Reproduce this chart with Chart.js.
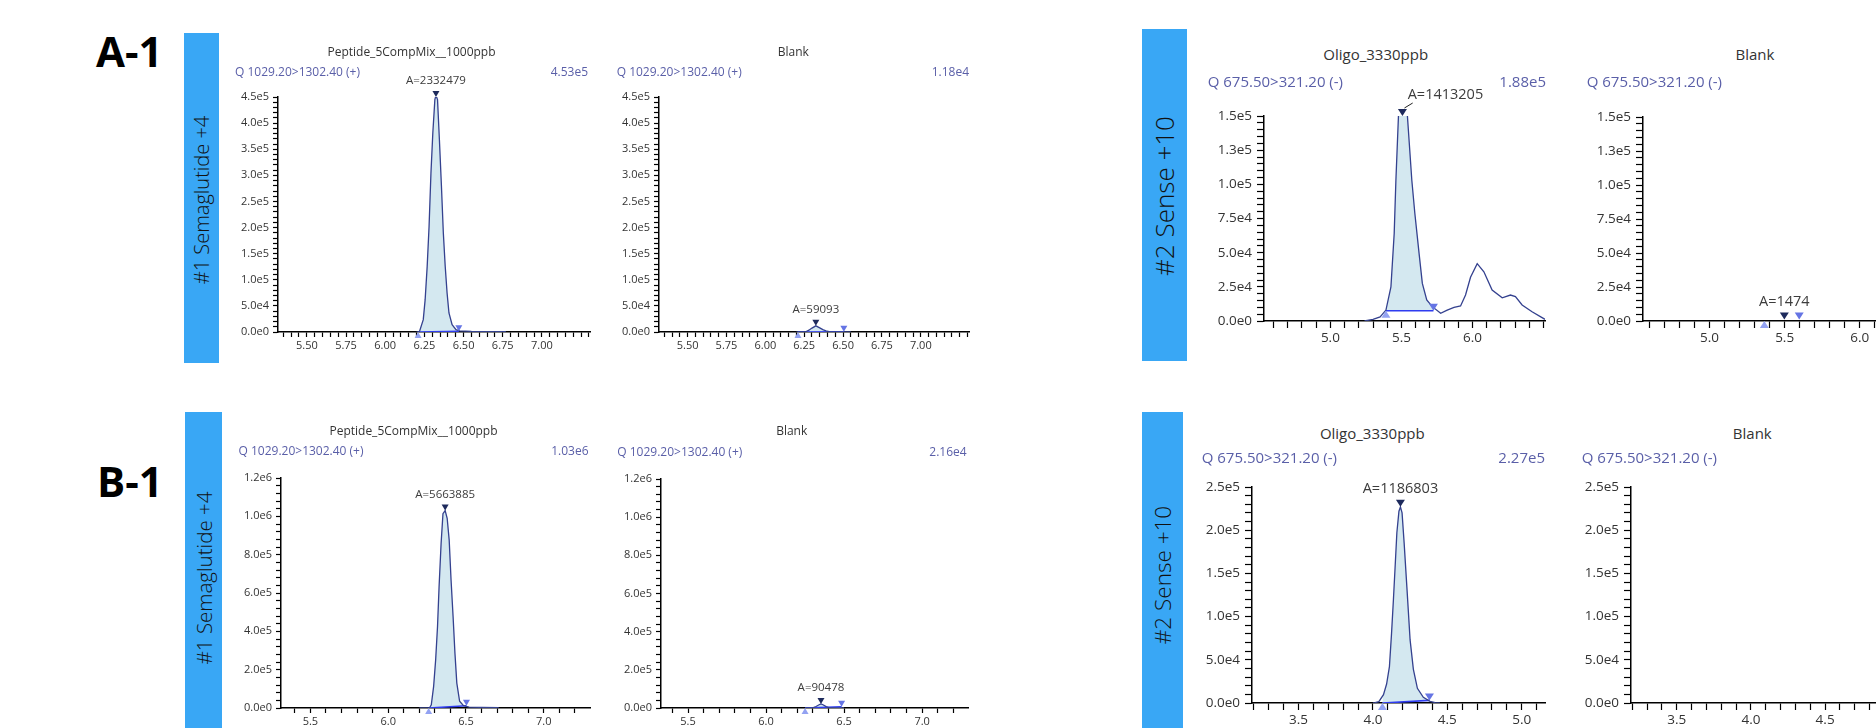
<!DOCTYPE html>
<html>
<head>
<meta charset="utf-8">
<title>MRM chromatograms</title>
<script src="https://cdn.jsdelivr.net/npm/chart.js@4.4.1/dist/chart.umd.min.js"></script>
<style>
  html, body { margin: 0; padding: 0; background: #fff; }
  body { position: relative; width: 1876px; height: 728px; overflow: hidden; font-family: "Open Sans", sans-serif; }
  .txt { position: absolute; white-space: nowrap; line-height: 1; }
  .tag { position: absolute; font-weight: 700; font-size: 42px; line-height: 1; color: #000; }
  .bar { position: absolute; background: #39a7f5; }
  .bar span { position: absolute; white-space: nowrap; line-height: 1; color: #111; font-weight: 300; transform: translate(-50%, -50%) rotate(-90deg); }
  .box { position: absolute; }
</style>
</head>
<body>
<div class="tag" style="left:96px;top:30px">A-1</div>
<div class="tag" style="left:97px;top:460px">B-1</div>
<div class="bar" style="left:184px;top:33px;width:35px;height:330px"><span style="left:17.5px;top:166.5px;font-size:20px">#1 Semaglutide +4</span></div>
<div class="bar" style="left:1142px;top:29px;width:45px;height:332px"><span style="left:22px;top:166.5px;font-size:26px">#2 Sense +10</span></div>
<div class="bar" style="left:185px;top:412px;width:37px;height:316px"><span style="left:18.5px;top:165.5px;font-size:20.5px">#1 Semaglutide +4</span></div>
<div class="bar" style="left:1142px;top:412px;width:41px;height:316px"><span style="left:21px;top:163px;font-size:22.5px">#2 Sense +10</span></div>

<script>
// ---- values (time in min, intensity in cps) ----

// A-1, Semaglutide +4, Peptide_5CompMix 1000 ppb
const a1Time   = [6.20, 6.218, 6.243, 6.255, 6.268, 6.280, 6.292, 6.304, 6.317, 6.324, 6.334, 6.346, 6.359, 6.371, 6.383, 6.395, 6.407, 6.427, 6.452, 6.476, 6.55, 6.65, 6.77];
const a1Signal = [0, 0, 23600, 61900, 125700, 202000, 304000, 381000, 445000, 453000, 445000, 368000, 279000, 190000, 126000, 74700, 36400, 14000, 4500, 2000, 1200, 900, 800];
const a1Peak = [6.21, 6.324, 6.47];   // start, apex, end
const a1Height = 453000;
const a1Base = [0, 1500];

// A-1, Semaglutide +4, blank
const a2Time   = [6.20, 6.24, 6.26, 6.28, 6.30, 6.325, 6.35, 6.37, 6.39, 6.41, 6.43, 6.55];
const a2Signal = [0, 0, 500, 3500, 7500, 11800, 8000, 4500, 2000, 500, 0, 0];
const a2Peak = [6.21, 6.325, 6.505];
const a2Height = 11800;
const a2Base = [0, 500];

// A-1, Sense +10, Oligo 3330 ppb (apex is above the axis top)
const a3Time   = [5.24, 5.30, 5.35, 5.391, 5.426, 5.449, 5.461, 5.479, 5.49, 5.51, 5.53, 5.542, 5.573, 5.594, 5.624, 5.647, 5.678, 5.717, 5.776, 5.822, 5.87, 5.916, 5.951, 5.986, 6.033, 6.08, 6.138, 6.209, 6.267, 6.302, 6.349, 6.419, 6.51];
const a3Signal = [0, 1200, 3000, 8000, 25000, 64000, 103000, 150000, 175000, 188000, 175000, 150000, 103000, 79000, 49500, 27500, 15400, 10500, 5600, 8000, 10000, 11000, 19000, 32000, 42000, 36000, 22700, 17000, 19000, 17800, 11700, 6800, 1200];
const a3Peak = [5.391, 5.507, 5.725];
const a3Height = 188000;
const a3Base = [7500, 7500];

// A-1, Sense +10, blank (no visible trace)
const a4Time   = [];
const a4Signal = [];
const a4Peak = [5.365, 5.498, 5.597];
const a4Height = 1100;
const a4Base = [0, 1100];

// B-1, Semaglutide +4, Peptide_5CompMix 1000 ppb
const b1Time   = [6.20, 6.265, 6.277, 6.292, 6.305, 6.317, 6.327, 6.340, 6.352, 6.366, 6.379, 6.392, 6.404, 6.417, 6.429, 6.441, 6.459, 6.484, 6.52, 6.60, 6.71];
const b1Signal = [0, 0, 17000, 113000, 251000, 425000, 633000, 858000, 1014000, 1030000, 990000, 876000, 668000, 477000, 286000, 130000, 35000, 12000, 5000, 3000, 2000];
const b1Peak = [6.26, 6.366, 6.503];
const b1Height = 1030000;
const b1Base = [0, 12000];

// B-1, Semaglutide +4, blank
const b2Time   = [6.25, 6.28, 6.30, 6.32, 6.34, 6.352, 6.365, 6.385, 6.405, 6.42, 6.50];
const b2Signal = [0, 0, 1000, 8000, 17000, 21600, 17000, 7000, 1000, 0, 0];
const b2Peak = [6.25, 6.352, 6.484];
const b2Height = 21600;
const b2Base = [0, 6000];

// B-1, Sense +10, Oligo 3330 ppb
const b3Time   = [4.00, 4.015, 4.04, 4.071, 4.092, 4.111, 4.125, 4.138, 4.150, 4.161, 4.175, 4.185, 4.196, 4.210, 4.228, 4.250, 4.272, 4.299, 4.339, 4.384, 4.418, 4.45];
const b3Signal = [0, 500, 1500, 9600, 22000, 42000, 80000, 120000, 160000, 197000, 222000, 227000, 220000, 185000, 135000, 73000, 39000, 17000, 6600, 2000, 500, 0];
const b3Peak = [4.064, 4.185, 4.38];
const b3Height = 227000;
const b3Base = [0, 3000];

// tick labels
const pepXLabelsA = [5.5, 5.75, 6.0, 6.25, 6.5, 6.75, 7.0];
const pepYLabelsA = [0, 50000, 100000, 150000, 200000, 250000, 300000, 350000, 400000, 450000];
const oliXLabelsA = [5.0, 5.5, 6.0];
const oliYLabelsA = [0, 25000, 50000, 75000, 100000, 125000, 150000];
const pepXLabelsB = [5.5, 6.0, 6.5, 7.0];
const pepYLabelsB = [0, 200000, 400000, 600000, 800000, 1000000, 1200000];
const oliXLabelsB = [3.5, 4.0, 4.5, 5.0];
const oliYLabelsB = [0, 50000, 100000, 150000, 200000, 250000];

// ---- styles ----
const SMALL = { tick: 11, title: 12, q: 12, ann: 11.5, tickLen: 5, pad: 4, xh: 24, markW: 7, markH: 6, annDx: 0, annDy: 16 };
const LARGE = { tick: 13.5, title: 15, q: 15, ann: 14.5, tickLen: 7, pad: 5, xh: 28, markW: 9, markH: 7, annDx: 0, annDy: 18 };
const CALLOUT = Object.assign({}, LARGE, { annDx: 43, annDy: 21 });

// box = chart area [left, right, top, bottom]; head = [title cx, title y, Q left, Q y, max right]
const panels = [
  { time: a1Time, signal: a1Signal, peak: a1Peak, height: a1Height, base: a1Base, area: 'A=2332479',
    x: [5.316, 7.307], xStep: 0.05, xLabels: pepXLabelsA, xDigits: 2, yMax: 450000, yStep: 10000, yLabels: pepYLabelsA,
    title: 'Peptide_5CompMix__1000ppb', mrm: 'Q 1029.20>1302.40 (+)', maxInt: '4.53e5',
    box: [278, 590, 97, 332], head: [411.5, 51.7, 235, 71.7, 588], st: SMALL },
  { time: a2Time, signal: a2Signal, peak: a2Peak, height: a2Height, base: a2Base, area: 'A=59093',
    x: [5.316, 7.31], xStep: 0.05, xLabels: pepXLabelsA, xDigits: 2, yMax: 450000, yStep: 10000, yLabels: pepYLabelsA,
    title: 'Blank', mrm: 'Q 1029.20>1302.40 (+)', maxInt: '1.18e4',
    box: [659, 969, 97, 332], head: [793.3, 51.7, 616.7, 71.7, 969], st: SMALL },
  { time: a3Time, signal: a3Signal, peak: a3Peak, height: a3Height, base: a3Base, area: 'A=1413205',
    x: [4.533, 6.51], xStep: 0.1, xLabels: oliXLabelsA, xDigits: 1, yMax: 150000, yStep: 5000, yLabels: oliYLabelsA,
    title: 'Oligo_3330ppb', mrm: 'Q 675.50>321.20 (-)', maxInt: '1.88e5',
    box: [1264, 1545, 116, 321], head: [1375.7, 54, 1207.7, 81, 1546], st: CALLOUT },
  { time: a4Time, signal: a4Signal, peak: a4Peak, height: a4Height, base: a4Base, area: 'A=1474',
    x: [4.558, 6.5], xStep: 0.1, xLabels: oliXLabelsA, xDigits: 1, yMax: 150000, yStep: 5000, yLabels: oliYLabelsA,
    title: 'Blank', mrm: 'Q 675.50>321.20 (-)', maxInt: '',
    box: [1643, 1935, 117, 321], head: [1755, 54, 1586.7, 81, null], st: LARGE },
  { time: b1Time, signal: b1Signal, peak: b1Peak, height: b1Height, base: b1Base, area: 'A=5663885',
    x: [5.311, 7.297], xStep: 0.1, xLabels: pepXLabelsB, xDigits: 1, yMax: 1200000, yStep: 40000, yLabels: pepYLabelsB,
    title: 'Peptide_5CompMix__1000ppb', mrm: 'Q 1029.20>1302.40 (+)', maxInt: '1.03e6',
    box: [281, 590, 478, 708], head: [413.5, 431, 238.5, 451, 588.5], st: SMALL },
  { time: b2Time, signal: b2Signal, peak: b2Peak, height: b2Height, base: b2Base, area: 'A=90478',
    x: [5.327, 7.294], xStep: 0.1, xLabels: pepXLabelsB, xDigits: 1, yMax: 1200000, yStep: 40000, yLabels: pepYLabelsB,
    title: 'Blank', mrm: 'Q 1029.20>1302.40 (+)', maxInt: '2.16e4',
    box: [661, 968, 479, 708], head: [791.7, 431, 617.3, 451.7, 966.7], st: SMALL },
  { time: b3Time, signal: b3Signal, peak: b3Peak, height: b3Height, base: b3Base, area: 'A=1186803',
    x: [3.187, 5.157], xStep: 0.1, xLabels: oliXLabelsB, xDigits: 1, yMax: 250000, yStep: 10000, yLabels: oliYLabelsB,
    title: 'Oligo_3330ppb', mrm: 'Q 675.50>321.20 (-)', maxInt: '2.27e5',
    box: [1252, 1545, 487, 703], head: [1372.3, 433.3, 1201.7, 457.3, 1545], st: LARGE },
  { time: [], signal: [], peak: null, height: 0, base: null, area: '',
    x: [3.192, 5.2], xStep: 0.1, xLabels: oliXLabelsB, xDigits: 1, yMax: 250000, yStep: 10000, yLabels: oliYLabelsB,
    title: 'Blank', mrm: 'Q 675.50>321.20 (-)', maxInt: '',
    box: [1631, 1929, 487, 703], head: [1752.3, 433.3, 1581.7, 457.3, null], st: LARGE }
];

// ---- helpers ----
function fmtExp(v) { return v.toExponential(1).replace('+', ''); }
function near(list, v, eps) { return list.some(l => Math.abs(l - v) < eps); }
function setTicks(axis, step) {
  const out = [];
  for (let k = Math.ceil(axis.min / step - 1e-6); k * step <= axis.max + step * 1e-6; k++) {
    out.push({ value: +(k * step).toFixed(6) });
  }
  axis.ticks = out;
}
function interp(ts, vs, t) {
  for (let i = 1; i < ts.length; i++) {
    if (ts[i] >= t) return vs[i - 1] + (t - ts[i - 1]) / (ts[i] - ts[i - 1]) * (vs[i] - vs[i - 1]);
  }
  return vs[vs.length - 1];
}
function addText(str, x, y, size, color, anchor) {
  const d = document.createElement('div');
  d.className = 'txt';
  d.textContent = str;
  const tx = anchor === 'center' ? '-50%' : anchor === 'right' ? '-100%' : '0';
  d.style.cssText = `left:${x}px;top:${y}px;font-size:${size}px;color:${color};transform:translate(${tx},-50%)`;
  document.body.appendChild(d);
}

// peak start / apex / end markers and the area label
const peakMarks = {
  id: 'peakMarks',
  afterDatasetsDraw(chart, args, o) {
    if (!o.peak) return;
    const { ctx, chartArea } = chart;
    const sx = chart.scales.x, sy = chart.scales.y;
    const yOf = v => Math.max(chartArea.top, sy.getPixelForValue(v));
    const w = o.markW, h = o.markH;
    const tri = (x, y, dir, color) => {
      ctx.beginPath();
      ctx.moveTo(x, y);
      ctx.lineTo(x - w / 2, y - dir * h);
      ctx.lineTo(x + w / 2, y - dir * h);
      ctx.closePath();
      ctx.fillStyle = color;
      ctx.fill();
    };
    ctx.save();
    tri(sx.getPixelForValue(o.peak[0]), yOf(o.base[0]), -1, '#93a2f2');
    tri(sx.getPixelForValue(o.peak[2]), yOf(o.base[1]), 1, '#6574e4');
    const ax = sx.getPixelForValue(o.peak[1]), ay = yOf(o.height);
    tri(ax, ay, 1, '#1d2a5c');
    ctx.font = `${o.annSize}px "Open Sans", sans-serif`;
    ctx.fillStyle = '#3c3c3c';
    ctx.textAlign = 'center';
    ctx.textBaseline = 'middle';
    const lx = ax + o.annDx, ly = ay - o.annDy;
    ctx.fillText(o.area, lx, ly);
    if (o.annDx) {
      const tw = ctx.measureText(o.area).width;
      ctx.beginPath();
      ctx.moveTo(lx - tw / 2 + 5, ly + 8);
      ctx.lineTo(ax + 2, ay - h - 1);
      ctx.strokeStyle = '#222';
      ctx.lineWidth = 1;
      ctx.stroke();
    }
    ctx.restore();
  }
};

function drawPanel(p) {
  const st = p.st;
  const [L, R, T, B] = p.box;
  const YW = 60, PT = 40, PR = 6;
  const box = document.createElement('div');
  box.className = 'box';
  box.style.cssText = `left:${L - YW}px;top:${T - PT}px;width:${R - L + YW + PR}px;height:${B - T + PT + st.xh}px`;
  const cv = document.createElement('canvas');
  box.appendChild(cv);
  document.body.appendChild(box);

  const pts = p.time.map((t, i) => ({ x: t, y: p.signal[i] }));
  const datasets = [{ data: pts, borderColor: '#34418f', borderWidth: 1.3, pointRadius: 0, fill: false, order: 0 }];
  if (p.peak && pts.length) {
    const t0 = p.peak[0], t1 = p.peak[2];
    const seg = [{ x: t0, y: interp(p.time, p.signal, t0) }]
      .concat(pts.filter(q => q.x > t0 && q.x < t1))
      .concat([{ x: t1, y: interp(p.time, p.signal, t1) }]);
    datasets.push({ data: [{ x: t0, y: p.base[0] }, { x: t1, y: p.base[1] }],
      borderColor: '#2f3cf0', borderWidth: 1.6, pointRadius: 0, fill: false, order: 1 });
    datasets.push({ data: seg, borderColor: 'rgba(0,0,0,0)', borderWidth: 0, pointRadius: 0,
      backgroundColor: '#d4e8f0', fill: 1, order: 2 });
  }

  const font = { family: '"Open Sans", sans-serif', size: st.tick };
  const grid = { drawOnChartArea: false, drawTicks: true, tickLength: st.tickLen, tickColor: '#000', tickWidth: 1.2 };
  const border = { color: '#000', width: 1.5 };

  new Chart(cv, {
    type: 'line',
    data: { datasets: datasets },
    options: {
      responsive: true,
      maintainAspectRatio: false,
      animation: false,
      events: [],
      layout: { padding: { top: PT, right: PR, left: 0, bottom: 0 } },
      scales: {
        x: {
          type: 'linear', min: p.x[0], max: p.x[1],
          grid: grid, border: border,
          ticks: { autoSkip: false, maxRotation: 0, minRotation: 0, padding: 2, color: '#333', font: font,
            callback: v => near(p.xLabels, v, p.xStep / 10) ? v.toFixed(p.xDigits) : '' },
          afterBuildTicks: ax => setTicks(ax, p.xStep),
          afterFit: s => { s.height = st.xh; }
        },
        y: {
          type: 'linear', min: 0, max: p.yMax,
          grid: grid, border: border,
          ticks: { autoSkip: false, padding: st.pad, color: '#333', font: font,
            callback: v => near(p.yLabels, v, p.yStep / 10) ? fmtExp(v) : '' },
          afterBuildTicks: ax => setTicks(ax, p.yStep),
          afterFit: s => { s.width = YW; }
        }
      },
      plugins: {
        legend: { display: false },
        tooltip: { enabled: false },
        peakMarks: { peak: p.peak, height: p.height, base: p.base, area: p.area,
          markW: st.markW, markH: st.markH, annSize: st.ann, annDx: st.annDx, annDy: st.annDy }
      }
    },
    plugins: [peakMarks]
  });

  const [tcx, ty, qx, qy, mx] = p.head;
  addText(p.title, tcx, ty, st.title, '#333', 'center');
  addText(p.mrm, qx, qy, st.q, '#5a5fa8', 'left');
  if (mx !== null && p.maxInt) addText(p.maxInt, mx, qy, st.q, '#5a5fa8', 'right');
}

panels.forEach(drawPanel);
</script>
</body>
</html>
